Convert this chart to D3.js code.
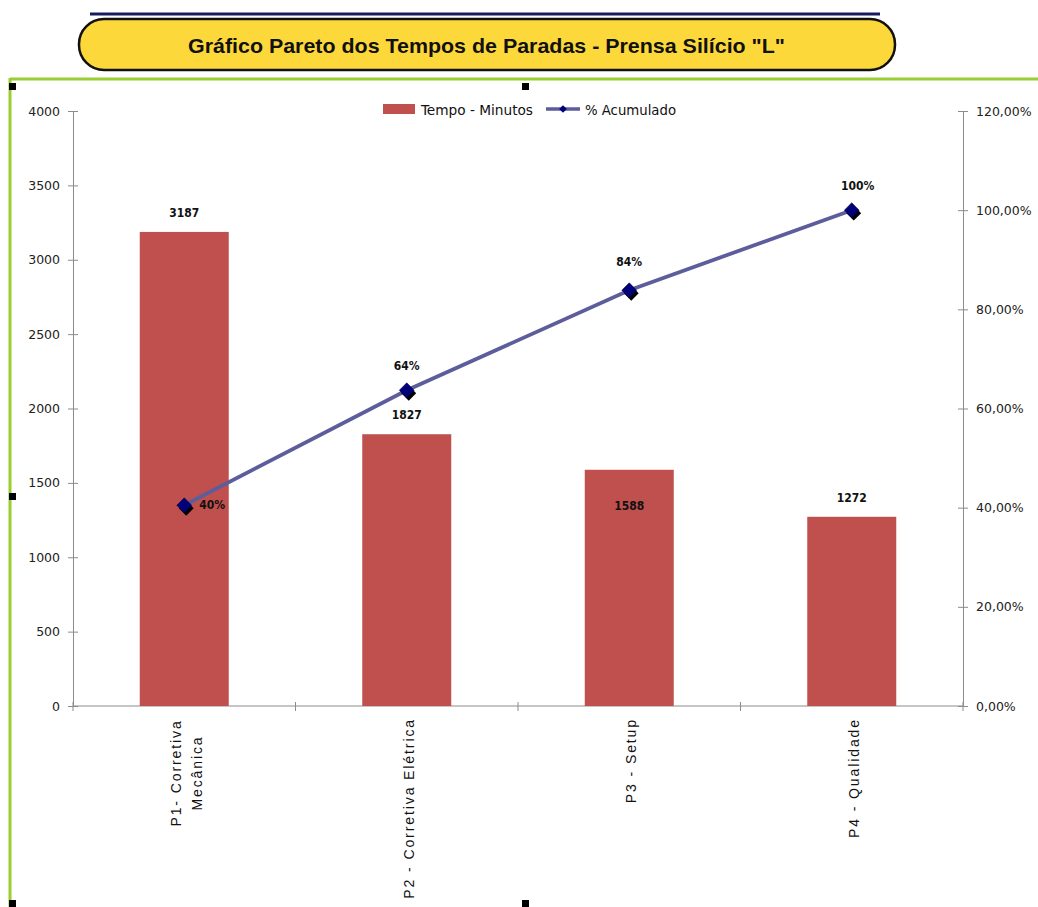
<!DOCTYPE html>
<html><head><meta charset="utf-8">
<script src="https://cdn.jsdelivr.net/npm/d3@7"></script>
<style>body{margin:0;background:#fff}svg{display:block}</style>
</head><body>
<script>
const categories = [["P1- Corretiva","Mecânica"],["P2 - Corretiva Elétrica"],["P3 - Setup"],["P4 - Qualidade"]];
const tempoMinutos = [3187, 1827, 1588, 1272];
const acumulado = [40.48, 63.68, 83.85, 100];
const acumuladoLabels = ["40%","64%","84%","100%"];
const leftTicks = [0,500,1000,1500,2000,2500,3000,3500,4000];
const rightTicks = [0,20,40,60,80,100,120];
const title = 'Gráfico Pareto dos Tempos de Paradas - Prensa Silício "L"';

const W=1038,H=907;
const svg=d3.select("body").append("svg").attr("width",W).attr("height",H);
const m={l:73,r:963,t:111,b:706};
const x=d3.scaleBand().domain(d3.range(categories.length)).range([m.l,m.r]).paddingInner(0.6).paddingOuter(0.3);
const xb=d3.scaleBand().domain(d3.range(categories.length)).range([m.l,m.r]);
const yL=d3.scaleLinear().domain([0,4000]).range([m.b,m.t]);
const yR=d3.scaleLinear().domain([0,120]).range([m.b,m.t]);

// frame
svg.append("line").attr("x1",10).attr("x2",W).attr("y1",79).attr("y2",79).attr("stroke","#9acd32").attr("stroke-width",3);
svg.append("line").attr("x1",10).attr("x2",10).attr("y1",78).attr("y2",H).attr("stroke","#9acd32").attr("stroke-width",3);
[[12,86],[525,86],[12,496],[12,903],[525,903]].forEach(p=>svg.append("rect").attr("x",p[0]-3).attr("y",p[1]-3).attr("width",7).attr("height",7).attr("fill","#000"));

// title box
svg.append("line").attr("x1",90).attr("x2",880).attr("y1",14).attr("y2",14).attr("stroke","#1a1a5e").attr("stroke-width",3);
svg.append("rect").attr("x",79).attr("y",19).attr("width",816).attr("height",51).attr("rx",25).attr("fill","#fdd83a").attr("stroke","#111").attr("stroke-width",2.5);
svg.append("text").attr("x",188).attr("y",53).attr("textLength",597).attr("lengthAdjust","spacingAndGlyphs")
  .attr("font-family","'Liberation Sans',Arial,sans-serif").attr("font-weight","bold").attr("font-size",21).attr("fill","#111").text(title);

// axes
const axisStyle=g=>{g.selectAll("path,line").attr("stroke","#8c8c8c");g.selectAll("text").attr("font-family","'DejaVu Sans',Verdana,sans-serif").attr("font-size",12.5).attr("fill","#222");};
svg.append("g").attr("transform",`translate(${m.l},0)`).call(d3.axisLeft(yL).tickValues(leftTicks).tickFormat(d3.format("d")).tickSizeOuter(0).tickPadding(7)).call(axisStyle)
  .call(g=>g.selectAll(".tick line").attr("x2",5).attr("x1",-5));
svg.append("g").attr("transform",`translate(${m.r},0)`).call(d3.axisRight(yR).tickValues(rightTicks).tickFormat(d=>d3.format(".2f")(d).replace(".",",")+"%").tickSizeOuter(0).tickPadding(7)).call(axisStyle)
  .call(g=>g.selectAll(".tick line").attr("x1",-5).attr("x2",5));
const xg=svg.append("g").attr("transform",`translate(0,${m.b})`);
xg.append("line").attr("x1",m.l).attr("x2",m.r).attr("stroke","#8c8c8c");
xg.selectAll(".xt").data(d3.range(categories.length+1)).join("line").attr("x1",i=>m.l+i*xb.step()).attr("x2",i=>m.l+i*xb.step()).attr("y1",-4).attr("y2",5).attr("stroke","#8c8c8c");

// bars
svg.selectAll(".bar").data(tempoMinutos).join("rect").attr("x",(d,i)=>x(i)).attr("width",x.bandwidth()).attr("y",d=>yL(d)).attr("height",d=>m.b-yL(d)).attr("fill","#c0504d");

// x labels
categories.forEach((lines,i)=>{
  const cx=xb(i)+xb.bandwidth()/2+2;
  const t=svg.append("text").attr("transform",`translate(${cx},${m.b+12}) rotate(-90)`)
    .attr("font-family","'Liberation Sans',Arial,sans-serif").attr("font-size",14).attr("letter-spacing",1.9).attr("fill","#111");
  lines.forEach((l,j)=>t.append("tspan").attr("x",lines.length>1?-55:0).attr("y",(j-(lines.length-1)/2)*21+5).attr("text-anchor",lines.length>1?"middle":"end").text(l));
});

// bar labels
const barLabelDy=[-15,-15,40,-15];
svg.selectAll(".bl").data(tempoMinutos).join("text").attr("x",(d,i)=>xb(i)+xb.bandwidth()/2).attr("y",(d,i)=>yL(d)+barLabelDy[i])
  .attr("text-anchor","middle").attr("font-family","'DejaVu Sans Condensed','DejaVu Sans',sans-serif").attr("font-weight","bold").attr("font-size",12).attr("fill","#111").text(d=>d);

// line
const px=i=>xb(i)+xb.bandwidth()/2;
svg.append("path").datum(acumulado).attr("d",d3.line().x((d,i)=>px(i)).y(d=>yR(d))).attr("fill","none").attr("stroke","#5d5d9c").attr("stroke-width",3.8);
const diamond=d3.symbol().type(d3.symbolSquare).size(110);
svg.selectAll(".sh").data(acumulado).join("path").attr("d",diamond).attr("transform",(d,i)=>`translate(${px(i)+2},${yR(d)+3}) rotate(45)`).attr("fill","#000");
svg.selectAll(".mk").data(acumulado).join("path").attr("d",diamond).attr("transform",(d,i)=>`translate(${px(i)},${yR(d)}) rotate(45)`).attr("fill","#00007a").attr("stroke","#000040").attr("stroke-width",0.5);
const pdx=[28,0,0,6],pdy=[4,-20,-24,-20];
svg.selectAll(".pl").data(acumulado).join("text").attr("x",(d,i)=>px(i)+pdx[i]).attr("y",(d,i)=>yR(d)+pdy[i])
  .attr("text-anchor","middle").attr("font-family","'DejaVu Sans Condensed','DejaVu Sans',sans-serif").attr("font-weight","bold").attr("font-size",12).attr("fill","#111").text((d,i)=>acumuladoLabels[i]);

// legend
const lg=svg.append("g").attr("font-family","'DejaVu Sans Condensed','DejaVu Sans',sans-serif").attr("font-size",14.5).attr("fill","#111");
lg.append("rect").attr("x",383).attr("y",104).attr("width",32).attr("height",10).attr("fill","#c0504d");
lg.append("text").attr("x",421).attr("y",115).attr("textLength",112).attr("lengthAdjust","spacingAndGlyphs").text("Tempo - Minutos");
lg.append("line").attr("x1",546).attr("x2",580).attr("y1",109).attr("y2",109).attr("stroke","#5d5d9c").attr("stroke-width",3.5);
lg.append("path").attr("d",d3.symbol().type(d3.symbolSquare).size(30)).attr("transform","translate(563,109) rotate(45)").attr("fill","#00007a");
lg.append("text").attr("x",585).attr("y",115).attr("textLength",91).attr("lengthAdjust","spacingAndGlyphs").text("% Acumulado");
</script>
</body></html>
